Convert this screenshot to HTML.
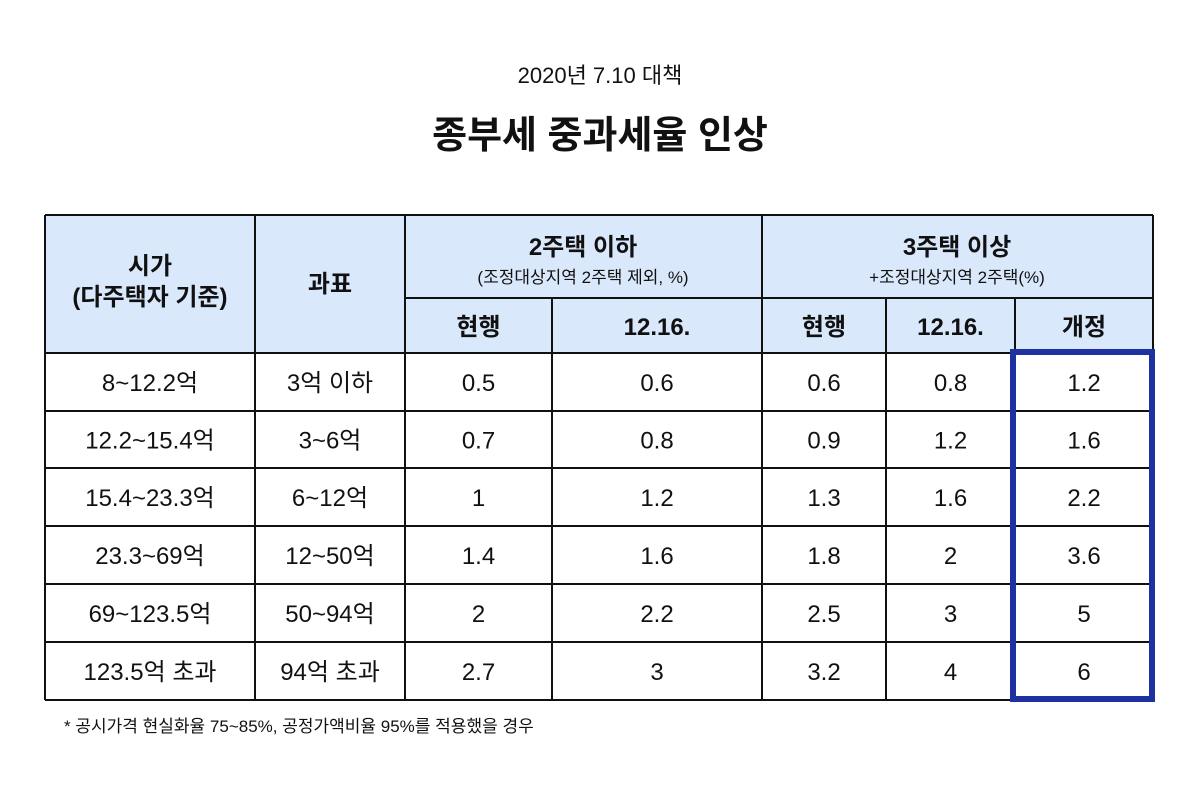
<!DOCTYPE html>
<html><head><meta charset="utf-8"><style>
body{margin:0;background:#fff;width:1200px;height:800px;overflow:hidden}
svg text{font-family:"Liberation Sans","Noto Sans CJK KR",sans-serif;fill:#111}
</style></head><body>
<svg width="1200" height="800">
<text x="600" y="83" font-size="22" text-anchor="middle">2020년 7.10 대책</text>
<text x="600" y="148" font-size="38" font-weight="bold" text-anchor="middle">종부세 중과세율 인상</text>
<g id="hdr"></g>
<g id="body"></g>
<g id="lines"></g>
<rect x="1013" y="352" width="139" height="347" fill="none" stroke="#1f31a0" stroke-width="6"/>
<text x="64" y="732" font-size="17">* 공시가격 현실화율 75~85%, 공정가액비율 95%를 적용했을 경우</text>
</svg>
<script>
const marketValue=["8~12.2억","12.2~15.4억","15.4~23.3억","23.3~69억","69~123.5억","123.5억 초과"];
const taxBase=["3억 이하","3~6억","6~12억","12~50억","50~94억","94억 초과"];
const twoCur=["0.5","0.7","1","1.4","2","2.7"];
const twoNew=["0.6","0.8","1.2","1.6","2.2","3"];
const threeCur=["0.6","0.9","1.3","1.8","2.5","3.2"];
const threeNew=["0.8","1.2","1.6","2","3","4"];
const threeRev=["1.2","1.6","2.2","3.6","5","6"];
const NS="http://www.w3.org/2000/svg";
const X=[45,255,405,552,762,886,1015,1153];
const Y=[215,298,353,411,468,526,584,642,700];
function el(p,t,a){const e=document.createElementNS(NS,t);for(const k in a)e.setAttribute(k,a[k]);p.appendChild(e);return e;}
const hdr=document.getElementById('hdr'),body=document.getElementById('body'),lines=document.getElementById('lines');
const bg=el(hdr,'rect',{x:45,y:215,width:1108,height:138,fill:'#dae8fc'});


function txt(p,x,y,s,size,bold,name){const t=el(p,'text',{x:x,y:y,'font-size':size,'text-anchor':'middle','font-weight':bold?'bold':'normal'});t.textContent=s;


return t;}
txt(hdr,150,274,'시가',24,true,'header-market-value');
txt(hdr,150,305,'(다주택자 기준)',24,true,'header-market-value-sub');
txt(hdr,330,292,'과표',24,true,'header-tax-base');
txt(hdr,583,255,'2주택 이하',24,true,'header-two-homes');
txt(hdr,583,283,'(조정대상지역 2주택 제외, %)',17,false,'header-two-homes-note');
txt(hdr,957,255,'3주택 이상',24,true,'header-three-homes');
txt(hdr,957,283,'+조정대상지역 2주택(%)',17,false,'header-three-homes-note');
const subs=['현행','12.16.','현행','12.16.','개정'];
subs.forEach((s,i)=>txt(hdr,(X[i+2]+X[i+3])/2,335,s,24,true,'subheader-'+i));
const cols=[marketValue,taxBase,twoCur,twoNew,threeCur,threeNew,threeRev];
for(let r=0;r<6;r++){for(let c=0;c<7;c++){
 txt(body,(X[c]+X[c+1])/2,(Y[r+2]+Y[r+3])/2+9,cols[c][r],24,false,'cell-r'+r+'-c'+c);
}}
function ln(x1,y1,x2,y2,w){const l=el(lines,'line',{x1:x1,y1:y1,x2:x2,y2:y2,stroke:'#111','stroke-width':w||2});

}
ln(45,215,1153,215);ln(45,700,1153,700);
for(let r=2;r<8;r++)ln(45,Y[r],1153,Y[r]);
ln(405,298,1153,298);
X.forEach((x,i)=>{ if(i===3||i===5||i===6) ln(x,298,x,700); else ln(x,215,x,700);});
</script>
</body></html>
